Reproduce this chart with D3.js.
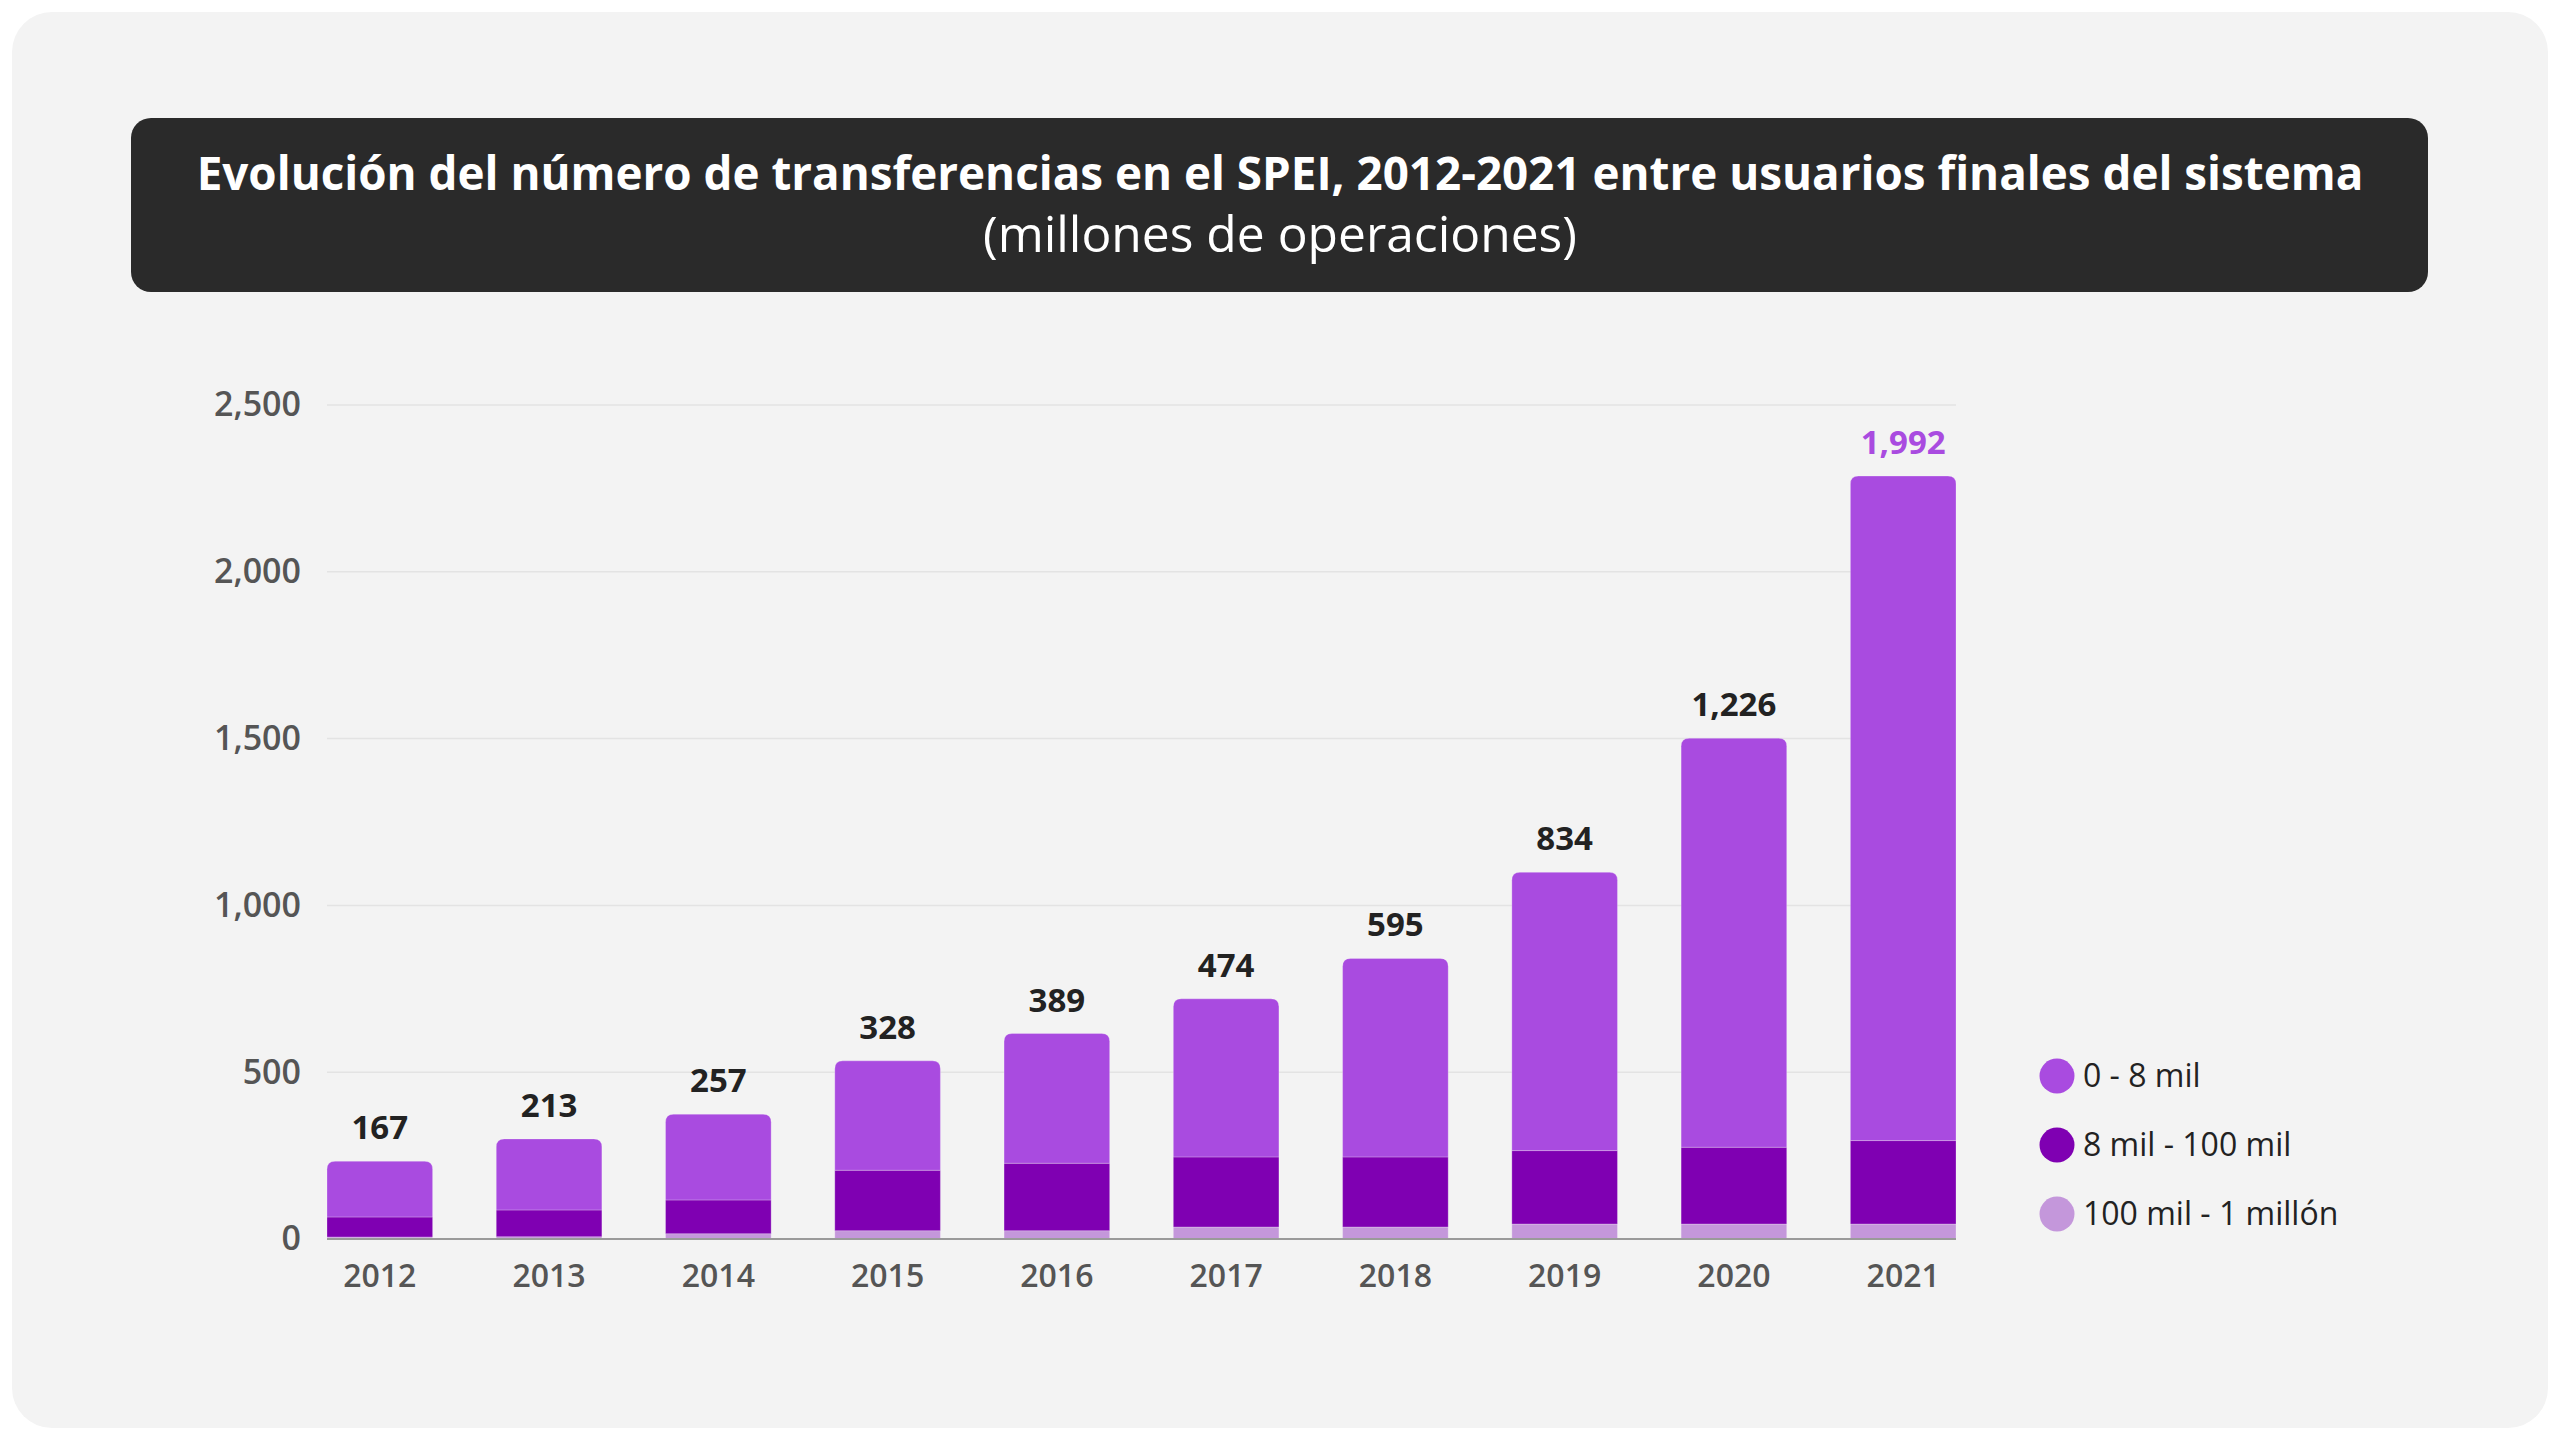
<!DOCTYPE html>
<html>
<head>
<meta charset="utf-8">
<script src="https://cdn.jsdelivr.net/npm/d3@7"></script>
<style>
  html, body { margin: 0; padding: 0; background: #ffffff; }
  svg { display: block; }
  text { font-family: "Open Sans", "Noto Sans", sans-serif; }
</style>
</head>
<body>
<svg id="chart" width="2560" height="1440"></svg>
<script>
// ---- Data ----
const years = ["2012","2013","2014","2015","2016","2017","2018","2019","2020","2021"];
const seriesNames = ["100 mil - 1 millón", "8 mil - 100 mil", "0 - 8 mil"]; // bottom to top
const valuesLarge = [6, 7, 16, 25, 25, 36, 36, 45, 45, 45];          // 100 mil - 1 millón
const valuesMid   = [60, 80, 101, 181, 202, 210, 210, 220, 230, 250]; // 8 mil - 100 mil
const valuesSmall = [167, 213, 257, 328, 389, 474, 595, 834, 1226, 1992]; // 0 - 8 mil
const yTicks = [0, 500, 1000, 1500, 2000, 2500];
const legendOrder = ["0 - 8 mil", "8 mil - 100 mil", "100 mil - 1 millón"];
const titleLine1 = "Evolución del número de transferencias en el SPEI, 2012-2021 entre usuarios finales del sistema";
const titleLine2 = "(millones de operaciones)";

const colors = {
  "0 - 8 mil": "#a94be0",
  "8 mil - 100 mil": "#7f00b2",
  "100 mil - 1 millón": "#c497db"
};

const svg = d3.select("#chart");

// card
svg.append("rect").attr("x", 12).attr("y", 12).attr("width", 2536).attr("height", 1416)
  .attr("rx", 40).attr("fill", "#f3f3f3");

// title box
svg.append("rect").attr("x", 131).attr("y", 118).attr("width", 2297).attr("height", 174)
  .attr("rx", 20).attr("fill", "#2a2a2a");

function fitText(sel, target) {
  const w = sel.node().getComputedTextLength();
  const fs = parseFloat(sel.attr("font-size"));
  sel.attr("font-size", (fs * target / w).toFixed(2));
}
const t1 = svg.append("text").attr("x", 1280).attr("y", 190).attr("text-anchor", "middle")
  .attr("fill", "#ffffff").attr("font-weight", 700).attr("font-size", 44).text(titleLine1);
fitText(t1, 2167);
const t2 = svg.append("text").attr("x", 1280).attr("y", 252).attr("text-anchor", "middle")
  .attr("fill", "#ffffff").attr("font-weight", 400).attr("font-size", 44).text(titleLine2);
fitText(t2, 594);

// scales
const x = d3.scaleBand().domain(years).range([327, 1956]).paddingInner(0.376).paddingOuter(0);
const y = d3.scaleLinear().domain([0, 2500]).range([1239, 405]);

const rows = years.map((yr, i) => ({
  year: yr,
  "100 mil - 1 millón": valuesLarge[i],
  "8 mil - 100 mil": valuesMid[i],
  "0 - 8 mil": valuesSmall[i]
}));
const stack = d3.stack().keys(seriesNames)(rows);

// gridlines
const g = svg.append("g");
g.selectAll("line.grid").data(yTicks.filter(d => d > 0)).join("line")
  .attr("x1", 327).attr("x2", 1956)
  .attr("y1", d => y(d)).attr("y2", d => y(d))
  .attr("stroke", "#e3e3e3").attr("stroke-width", 1.5);

// y axis
const yAxis = svg.append("g").attr("transform", "translate(301,0)")
  .call(d3.axisLeft(y).tickValues(yTicks).tickSize(0).tickPadding(0).tickFormat(d3.format(",")));
yAxis.select(".domain").remove();
yAxis.selectAll("text").attr("font-size", 34).attr("font-weight", 600).attr("fill", "#555555")
  .attr("font-family", "'Open Sans', sans-serif");

// bars
const r = 8;
function topRounded(x0, y0, w, h) {
  const rr = Math.min(r, h);
  return `M${x0},${y0 + h} L${x0},${y0 + rr} Q${x0},${y0} ${x0 + rr},${y0} L${x0 + w - rr},${y0} Q${x0 + w},${y0} ${x0 + w},${y0 + rr} L${x0 + w},${y0 + h} Z`;
}
stack.forEach(layer => {
  const key = layer.key;
  const isTop = key === "0 - 8 mil";
  svg.append("g").selectAll("path").data(layer).join("path")
    .attr("d", d => {
      const x0 = x(d.data.year), w = x.bandwidth();
      const y0 = y(d[1]), h = y(d[0]) - y(d[1]);
      if (isTop) return topRounded(x0, y0, w, h);
      return `M${x0},${y0} h${w} v${h} h${-w} Z`;
    })
    .attr("fill", colors[key])
    .attr("stroke", "rgba(255,255,255,0.25)").attr("stroke-width", 1);
});

// x axis
const xAxis = svg.append("g").attr("transform", "translate(0,1239)")
  .call(d3.axisBottom(x).tickSize(0).tickPadding(0));
xAxis.select(".domain").attr("stroke", "#9a9a9a").attr("stroke-width", 2)
  .attr("d", `M327,0H1956`);
xAxis.selectAll("text").attr("font-size", 32).attr("font-weight", 600).attr("fill", "#555555")
  .attr("dy", null).attr("y", 48).attr("font-family", "'Open Sans', sans-serif");

// value labels
const lastIdx = years.length - 1;
const topLayer = stack[stack.length - 1];
svg.append("g").selectAll("text").data(topLayer).join("text")
  .attr("x", d => x(d.data.year) + x.bandwidth() / 2)
  .attr("y", d => y(d[1]) - 22)
  .attr("text-anchor", "middle")
  .attr("font-size", 33).attr("font-weight", 700)
  .attr("fill", (d, i) => i === lastIdx ? "#a94be0" : "#222222")
  .text(d => d3.format(",")(d.data["0 - 8 mil"]));

// legend
const leg = svg.append("g").selectAll("g").data(legendOrder).join("g")
  .attr("transform", (d, i) => `translate(2057,${1076 + i * 69})`);
leg.append("circle").attr("r", 17.5).attr("fill", d => colors[d]);
leg.append("text").attr("x", 26).attr("dy", "0.35em").attr("font-size", 32)
  .attr("font-weight", 400).attr("fill", "#222222").text(d => d);
</script>
</body>
</html>
